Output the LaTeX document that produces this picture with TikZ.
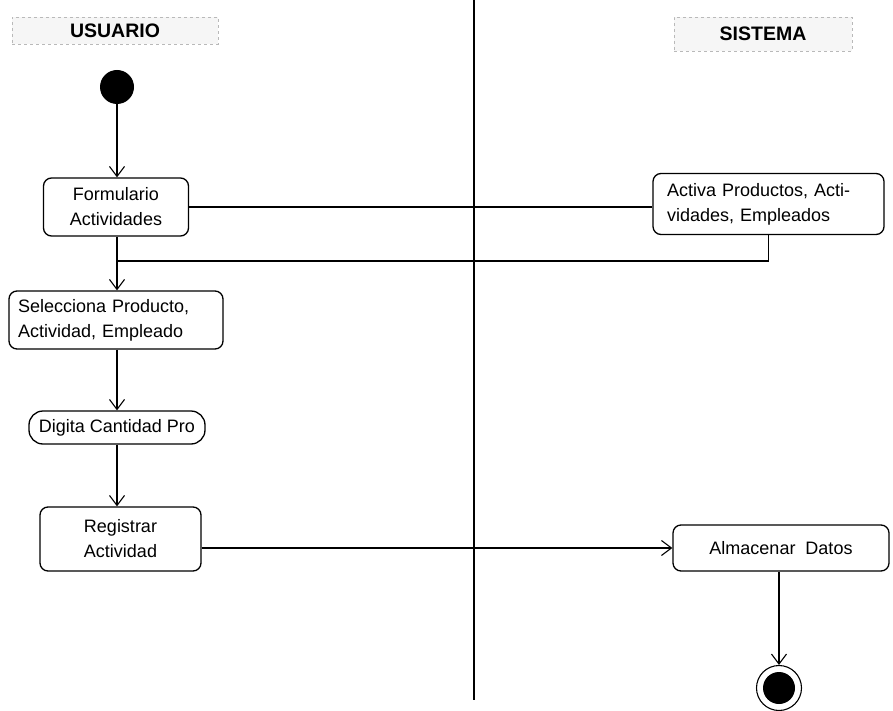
\documentclass[tikz,border=0pt]{standalone}
\usepackage{fontspec}
\setmainfont{Liberation Sans}
\usetikzlibrary{arrows.meta}
\begin{document}
\begin{tikzpicture}[x=1pt,y=-1pt,
  act/.style={draw, rounded corners=8pt, line width=1.3pt, inner sep=0pt,
    font=\fontsize{18}{25}\selectfont},
  flow/.style={line width=1.3pt, -{Straight Barb[length=10pt,width=15pt,line width=1.1pt]}},
  plain/.style={line width=1.3pt},
  lane/.style={draw=gray!55, dashed, fill=gray!7, line width=0.8pt,
    font=\fontsize{19.5}{22}\bfseries\selectfont},
]
\useasboundingbox (0,0) rectangle (893,711);

% swimlane headers and separator
\node[lane, minimum width=206, minimum height=27] (usuario) at (115,30.5) {USUARIO};
\node[lane, minimum width=178, minimum height=34] (sistema) at (763,34) {SISTEMA};
\coordinate (sepTop) at (474,0);
\coordinate (sepBot) at (474,700);
\draw[line width=1.3pt] (sepTop) -- (sepBot);

% initial and final states
\node[circle, fill=black, minimum size=34, inner sep=0pt] (start) at (117,87) {};
\node[circle, draw, line width=1.1pt, minimum size=45, inner sep=0pt] (fin) at (779,688) {};
\node[circle, fill=black, minimum size=32, inner sep=0pt] (finIn) at (fin.center) {};

% activities
\node[act, minimum width=145, minimum height=58, align=center] (form) at (116,207)
  {Formulario\\Actividades};
\node[act, minimum width=231, minimum height=61, text width=203, align=left] (activa) at (768.5,204)
  {Activa Productos, Acti-\\vidades, Empleados};
\node[act, minimum width=214, minimum height=58, text width=196, align=left] (sel) at (116,320)
  {Selecciona Producto,\\Actividad, Empleado};
\node[act, rounded corners=14pt, minimum width=176, minimum height=33] (dig) at (117,427.5)
  {Digita Cantidad Pro};
\node[act, minimum width=161, minimum height=64, text width=141, align=center] (reg) at (120.5,539)
  {Registrar\hspace*{14pt}\\Actividad\hspace*{20pt}};
\node[act, minimum width=216, minimum height=46] (alm) at (781,548)
  {Almacenar~ Datos};

% transitions
\coordinate (join) at (117,261);
\draw[flow] (start) -- (form.north -| start);
\draw[plain] (form.east) -- (form.east -| activa.west);
\draw[plain] (activa.south) |- (join);
\draw[flow] (form.south -| join) -- (sel.north -| join);
\draw[flow] (sel.south -| dig) -- (dig.north);
\draw[flow] (dig.south) -- (reg.north -| dig);
\draw[flow] ([yshift=-9pt]reg.east) -- (alm.west);
\draw[flow] (alm.south -| fin) -- (fin.north);
\end{tikzpicture}
\end{document}
